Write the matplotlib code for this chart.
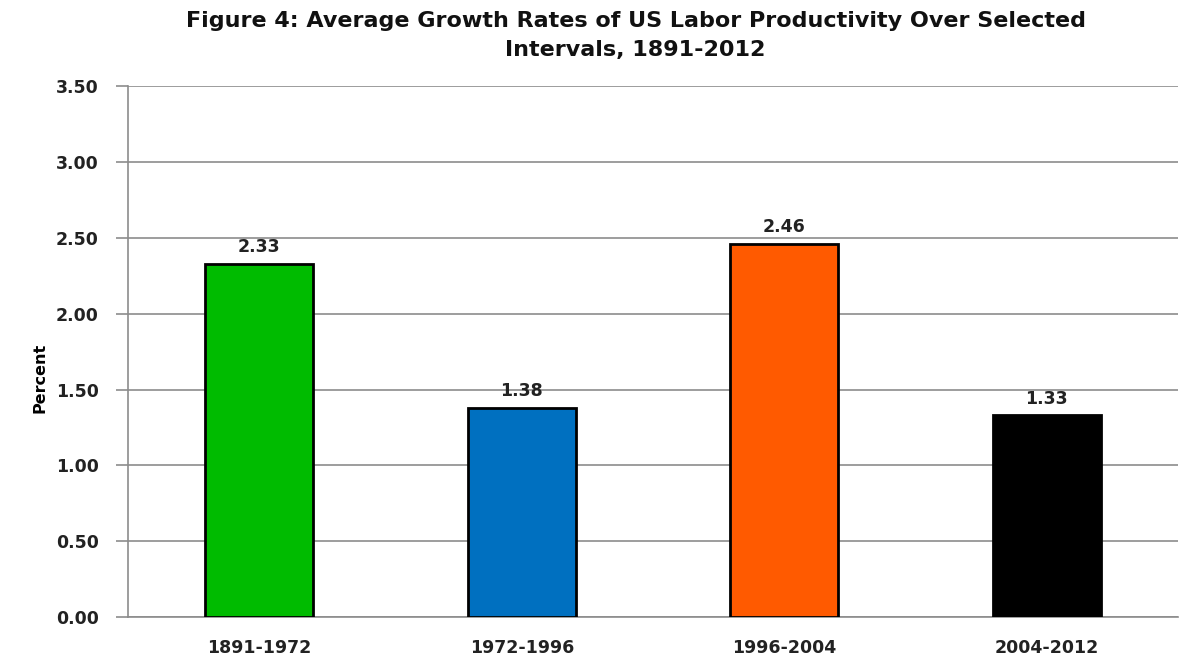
import numpy as np
import matplotlib

matplotlib.use('Agg')
import matplotlib.pyplot as plt

periods = ['1891-1972', '1972-1996', '1996-2004', '2004-2012']
growth = [2.33, 1.38, 2.46, 1.33]
colors = ['#00BB00', '#0070C0', '#FF5A00', '#000000']
yticks = [0.0, 0.5, 1.0, 1.5, 2.0, 2.5, 3.0, 3.5]

plt.rcParams['font.family'] = ['DejaVu Sans']

fig = plt.figure(figsize=(11.88, 6.63), dpi=100)
ax = fig.add_axes([0.1077, 0.0694, 0.8839, 0.8006])

x = np.arange(len(periods))
ax.bar(x, growth, width=0.41, color=colors, edgecolor='black', linewidth=2, zorder=3)

for xi, v in zip(x, growth):
    ax.text(xi, v + 0.05, '%.2f' % v, ha='center', va='bottom',
            fontsize=12.5, fontweight='bold', color='#222222')

ax.set_xlim(-0.5, 3.5)
ax.set_ylim(0, 3.5)
ax.set_yticks(yticks)
ax.set_yticklabels(['%.2f' % t for t in yticks])
ax.set_xticks(x)
ax.set_xticklabels(periods)
ax.grid(axis='y', color='#8c8c8c', linewidth=1.2, zorder=0)

for lab in ax.get_xticklabels() + ax.get_yticklabels():
    lab.set_fontweight('bold')
    lab.set_fontsize(12.5)
    lab.set_color('#222222')

ax.tick_params(axis='y', length=9, width=1.2, color='#8c8c8c', pad=12)
ax.tick_params(axis='x', length=0, pad=16)

for s in ['top', 'right']:
    ax.spines[s].set_visible(False)
for s in ['left', 'bottom']:
    ax.spines[s].set_color('#8c8c8c')
    ax.spines[s].set_linewidth(1.2)

ax.set_ylabel('Percent', fontsize=11.5, fontweight='bold')
ax.yaxis.set_label_coords(-0.077, 0.45)

fig.suptitle('Figure 4: Average Growth Rates of US Labor Productivity Over Selected\nIntervals, 1891-2012',
             x=0.535, y=0.984, va='top', fontsize=16, fontweight='bold', color='#111111',
             linespacing=1.6)

plt.savefig('out.png', dpi=100)
